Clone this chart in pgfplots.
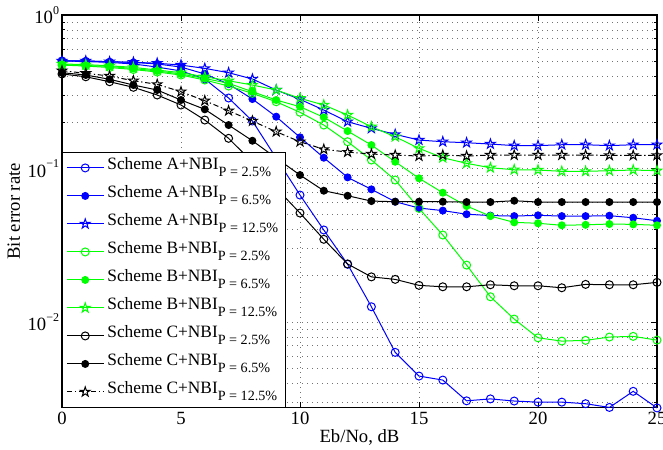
\documentclass[border=0pt]{standalone}
\usepackage{fontspec}
\setmainfont{Liberation Serif}
\usepackage{pgfplots}
\pgfplotsset{compat=1.18}

\definecolor{mblue}{rgb}{0,0,1}
\definecolor{mgreen}{rgb}{0,1,0}

% five-pointed star like matlab's 'p' marker
\pgfdeclareplotmark{pgram}{%
  \pgfpathmoveto{\pgfpointpolar{90}{\pgfplotmarksize}}%
  \pgfpathlineto{\pgfpointpolar{126}{0.382\pgfplotmarksize}}%
  \pgfpathlineto{\pgfpointpolar{162}{\pgfplotmarksize}}%
  \pgfpathlineto{\pgfpointpolar{198}{0.382\pgfplotmarksize}}%
  \pgfpathlineto{\pgfpointpolar{234}{\pgfplotmarksize}}%
  \pgfpathlineto{\pgfpointpolar{270}{0.382\pgfplotmarksize}}%
  \pgfpathlineto{\pgfpointpolar{306}{\pgfplotmarksize}}%
  \pgfpathlineto{\pgfpointpolar{342}{0.382\pgfplotmarksize}}%
  \pgfpathlineto{\pgfpointpolar{18}{\pgfplotmarksize}}%
  \pgfpathlineto{\pgfpointpolar{54}{0.382\pgfplotmarksize}}%
  \pgfpathclose
  \pgfusepathqstroke
}

\newcommand{\leg}[2]{Scheme #1+NBI\raisebox{-5.5pt}{\fontsize{10.6}{12}\selectfont P = #2\%}}
\newcommand{\dec}[1]{10\raisebox{0.5em}{\fontsize{9}{10}\selectfont #1}}

\begin{document}
\begin{tikzpicture}
\begin{axis}[
  scale only axis,
  width=446.25pt, height=294.5pt,
  ymode=log,
  xmin=0, xmax=25, ymin=0.00277, ymax=1,
  xtick={0,5,10,15,20,25},
  ytick={0.01,0.1,1},
  yticklabels={\dec{−2},\dec{−1},\dec{0}},
  minor ytick={0.003,0.004,0.005,0.006,0.007,0.008,0.009,
               0.02,0.03,0.04,0.05,0.06,0.07,0.08,0.09,
               0.2,0.3,0.4,0.5,0.6,0.7,0.8,0.9},
  xticklabel style={/pgf/number format/assume math mode=true},
  yticklabel style={inner xsep=2pt},
  ticklabel style={font=\fontsize{14}{16}\selectfont},
  label style={font=\fontsize{14}{16}\selectfont},
  xlabel={Eb/No, dB},
  ylabel={Bit error rate},
  xlabel style={at={(axis description cs:0.5,-0.075)}, anchor=center},
  ylabel style={at={(axis description cs:-0.081,0.5)}, anchor=center},
  xmajorgrids, ymajorgrids, yminorgrids,
  grid style={black!55, line width=0.55pt, dash pattern=on 0.6pt off 3.15pt},
  minor grid style={black!55, line width=0.55pt, dash pattern=on 0.6pt off 3.15pt},
  tick align=inside,
  major tick length=4.5pt, minor tick length=2.5pt,
  tick style={black, line width=0.6pt},
  axis line style={black, line width=0.9pt},
  clip=false,
  every axis plot/.append style={line width=0.75pt},
  legend cell align=left,
  legend style={at={(axis description cs:0,0)}, anchor=south west,
    draw=black, fill=white, line width=0.6pt,
    font=\fontsize{13}{15}\selectfont,
    row sep=0pt, inner xsep=3pt, inner ysep=1pt,
    nodes={text height=9pt, text depth=7pt, inner sep=2.5pt}},
  legend image code/.code={%
    \draw[mark repeat=2, mark phase=2]
      plot coordinates {(0pt,0pt) (13.75pt,0pt) (27.5pt,0pt)};},
]
% scheme A
\addplot[mblue, mark=o, mark size=3pt] coordinates {
(0,0.502)(1,0.498)(2,0.491)(3,0.480)(4,0.458)(5,0.432)(6,0.383)(7,0.288)(8,0.204)(9,0.117)
(10,0.0672)(11,0.0398)(12,0.0238)(13,0.01258)(14,0.00635)(15,0.00445)(16,0.00419)(17,0.00307)
(18,0.00316)(19,0.00306)(20,0.00301)(21,0.00301)(22,0.00294)(23,0.00278)(24,0.00354)(25,0.00276)};
\addlegendentry{\leg{A}{2.5}}
\addplot[mblue, mark=*, mark size=2.6pt] coordinates {
(0,0.502)(1,0.502)(2,0.496)(3,0.491)(4,0.480)(5,0.458)(6,0.413)(7,0.355)(8,0.2836)(9,0.2176)
(10,0.1597)(11,0.1176)(12,0.0876)(13,0.0732)(14,0.0608)(15,0.0553)(16,0.0532)(17,0.0504)
(18,0.0494)(19,0.0490)(20,0.0496)(21,0.0490)(22,0.0490)(23,0.0493)(24,0.0478)(25,0.0457)};
\addlegendentry{\leg{A}{6.5}}
\addplot[mblue, mark=pgram, mark size=3.8pt] coordinates {
(0,0.502)(1,0.502)(2,0.496)(3,0.492)(4,0.485)(5,0.472)(6,0.449)(7,0.421)(8,0.383)(9,0.3246)
(10,0.2823)(11,0.2404)(12,0.2018)(13,0.1827)(14,0.1670)(15,0.1533)(16,0.1495)(17,0.1473)
(18,0.1444)(19,0.1410)(20,0.1410)(21,0.1429)(22,0.1429)(23,0.1410)(24,0.1429)(25,0.1429)};
\addlegendentry{\leg{A}{12.5}}
% scheme B
\addplot[mgreen, mark=o, mark size=3pt] coordinates {
(0,0.472)(1,0.465)(2,0.455)(3,0.4416)(4,0.4253)(5,0.4066)(6,0.3772)(7,0.3447)(8,0.3090)(9,0.2723)
(10,0.2324)(11,0.1920)(12,0.1495)(13,0.1136)(14,0.0842)(15,0.0550)(16,0.0369)(17,0.0235)
(18,0.01462)(19,0.01046)(20,0.00790)(21,0.00752)(22,0.00760)(23,0.00799)(24,0.00807)(25,0.00763)};
\addlegendentry{\leg{B}{2.5}}
\addplot[mgreen, mark=*, mark size=2.6pt] coordinates {
(0,0.476)(1,0.469)(2,0.462)(3,0.448)(4,0.432)(5,0.413)(6,0.386)(7,0.359)(8,0.3165)(9,0.2794)
(10,0.2527)(11,0.2156)(12,0.1755)(13,0.1422)(14,0.1107)(15,0.0864)(16,0.0696)(17,0.0570)
(18,0.0490)(19,0.0446)(20,0.0440)(21,0.0427)(22,0.0430)(23,0.0435)(24,0.0433)(25,0.0427)};
\addlegendentry{\leg{B}{6.5}}
\addplot[mgreen, mark=pgram, mark size=3.8pt] coordinates {
(0,0.480)(1,0.475)(2,0.467)(3,0.456)(4,0.438)(5,0.421)(6,0.396)(7,0.373)(8,0.350)(9,0.3246)
(10,0.2867)(11,0.2593)(12,0.2231)(13,0.1872)(14,0.1611)(15,0.1353)(16,0.1176)(17,0.1081)
(18,0.1012)(19,0.0982)(20,0.0978)(21,0.0959)(22,0.0959)(23,0.0968)(24,0.0978)(25,0.0968)};
\addlegendentry{\leg{B}{12.5}}
% scheme C
\addplot[black, mark=o, mark size=3pt] coordinates {
(0,0.413)(1,0.396)(2,0.3676)(3,0.3381)(4,0.3013)(5,0.2593)(6,0.2070)(7,0.1573)(8,0.1102)(9,0.0746)
(10,0.0513)(11,0.0346)(12,0.0239)(13,0.0197)(14,0.01897)(15,0.01734)(16,0.01698)(17,0.01698)
(18,0.01750)(19,0.01724)(20,0.01724)(21,0.01673)(22,0.01760)(23,0.01750)(24,0.01750)(25,0.01814)};
\addlegendentry{\leg{C}{2.5}}
\addplot[black, mark=*, mark size=2.6pt] coordinates {
(0,0.421)(1,0.4066)(2,0.3814)(3,0.350)(4,0.3246)(5,0.2794)(6,0.2430)(7,0.1920)(8,0.1517)(9,0.1171)
(10,0.0907)(11,0.0717)(12,0.0665)(13,0.0614)(14,0.0608)(15,0.0608)(16,0.0608)(17,0.0605)
(18,0.0605)(19,0.0617)(20,0.0605)(21,0.0605)(22,0.0605)(23,0.0605)(24,0.0605)(25,0.0605)};
\addlegendentry{\leg{C}{6.5}}
\addplot[black, dash pattern=on 4pt off 2pt on 1pt off 2pt, mark=pgram, mark size=3.8pt,
  mark options={solid}] coordinates {
(0,0.4338)(1,0.4171)(2,0.4005)(3,0.373)(4,0.3536)(5,0.3165)(6,0.2765)(7,0.2379)(8,0.2039)(9,0.1737)
(10,0.1495)(11,0.1334)(12,0.1280)(13,0.1243)(14,0.1224)(15,0.1206)(16,0.1224)(17,0.1206)
(18,0.1224)(19,0.1224)(20,0.1224)(21,0.1224)(22,0.1224)(23,0.1218)(24,0.1218)(25,0.1218)};
\addlegendentry{\leg{C}{12.5}}
\end{axis}
\pgfresetboundingbox
\path[use as bounding box] ([shift={(-46.5pt,-31.7pt)}]current axis.south west)
  rectangle ([shift={(4.5pt,11.25pt)}]current axis.north east);
\end{tikzpicture}
\end{document}
